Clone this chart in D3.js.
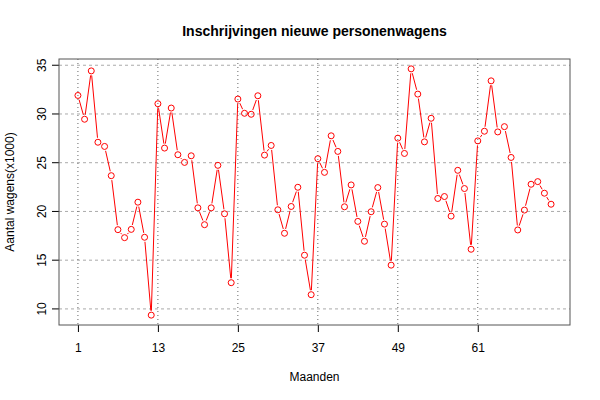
<!DOCTYPE html>
<html><head><meta charset="utf-8">
<script src="https://cdn.jsdelivr.net/npm/d3@7"></script>
<style>body{margin:0;background:#fff}svg{display:block;font-family:"Liberation Sans",Arial,sans-serif}</style>
</head><body>
<svg id="c" width="600" height="400"></svg>
<script>
const months = d3.range(1, 73);
const values = [31.9,29.46,34.42,27.1,26.67,23.67,18.13,17.31,18.16,20.95,17.35,9.36,
31.05,26.5,30.61,25.82,25.03,25.71,20.37,18.64,20.37,24.73,19.76,12.69,
31.53,30.07,29.97,31.87,25.78,26.77,20.17,17.76,20.51,22.48,15.51,11.46,
25.41,24.01,27.76,26.16,20.48,22.72,18.98,16.94,19.97,22.45,18.7,14.49,
27.52,25.95,34.63,32.04,27.14,29.56,21.33,21.53,19.52,24.22,22.35,16.12,
27.24,28.23,33.4,28.16,28.7,25.54,18.1,20.14,22.79,23.06,21.87,20.74];
const xTicks = [1,13,25,37,49,61];
const yTicks = [10,15,20,25,30,35];
const title = "Inschrijvingen nieuwe personenwagens";
const xLabel = "Maanden";
const yLabel = "Aantal wagens(x1000)";

const L=59, R=570, T=59, B=325;
const svg = d3.select("#c");
const xmin=d3.min(months), xmax=d3.max(months), xr=(xmax-xmin)*0.04;
const ymin=d3.min(values), ymax=d3.max(values), yr=(ymax-ymin)*0.04;
const x = d3.scaleLinear().domain([xmin-xr, xmax+xr]).range([L,R]);
const y = d3.scaleLinear().domain([ymin-yr, ymax+yr]).range([B,T]);

// grid
svg.append("g").selectAll("line").data(yTicks).join("line")
  .attr("x1",L).attr("x2",R).attr("y1",d=>y(d)).attr("y2",d=>y(d))
  .attr("stroke","#aaa").attr("stroke-dasharray","3,3").attr("stroke-width",1);
svg.append("g").selectAll("line").data(xTicks).join("line")
  .attr("y1",T).attr("y2",B).attr("x1",d=>x(d)).attr("x2",d=>x(d))
  .attr("stroke","#666").attr("stroke-dasharray","1,3").attr("stroke-width",1);

// axes
const xa = svg.append("g").attr("transform",`translate(0,${B})`)
  .call(d3.axisBottom(x).tickValues(xTicks).tickSize(7).tickPadding(11).tickFormat(d3.format("d")));
const ya = svg.append("g").attr("transform",`translate(${L},0)`)
  .call(d3.axisLeft(y).tickValues(yTicks).tickSize(7).tickPadding(5).tickFormat(d3.format("d")));
[xa,ya].forEach(a=>{a.select(".domain").remove();a.selectAll("line").attr("stroke","#000");
  a.selectAll("text").attr("font-size",12).attr("fill","#000").attr("font-family","Liberation Sans, Arial, sans-serif");});
ya.selectAll(".tick").attr("transform",null);
ya.selectAll(".tick line").attr("y1",d=>y(d)).attr("y2",d=>y(d));
ya.selectAll("text").attr("x",-17).attr("y",d=>y(d)).attr("dy",4).attr("text-anchor","middle")
  .attr("transform",function(d){return `rotate(-90,${-17},${y(d)})`;});

svg.append("rect").attr("x",L).attr("y",T).attr("width",R-L).attr("height",B-T)
  .attr("fill","none").attr("stroke","#555").attr("stroke-width",1);

// type "b" lines with gaps
const gap=4.5;
const pts = months.map((m,i)=>[x(m),y(values[i])]);
const segs=[];
for(let i=0;i<pts.length-1;i++){
  const [x1,y1]=pts[i],[x2,y2]=pts[i+1];
  const dx=x2-x1,dy=y2-y1,len=Math.hypot(dx,dy);
  if(len>2*gap){const ux=dx/len,uy=dy/len;
    segs.push([x1+ux*gap,y1+uy*gap,x2-ux*gap,y2-uy*gap]);}
}
svg.append("g").selectAll("line").data(segs).join("line")
  .attr("x1",d=>d[0]).attr("y1",d=>d[1]).attr("x2",d=>d[2]).attr("y2",d=>d[3])
  .attr("stroke","#ff0000").attr("stroke-width",1);
svg.append("g").selectAll("circle").data(months).join("circle")
  .attr("cx",d=>x(d)).attr("cy",(d,i)=>y(values[i])).attr("r",3)
  .attr("fill","none").attr("stroke","#ff0000").attr("stroke-width",1);

svg.append("text").attr("x",(L+R)/2).attr("y",36).attr("text-anchor","middle")
  .attr("font-size",14).attr("font-weight","bold").text(title);
svg.append("text").attr("x",(L+R)/2).attr("y",381).attr("text-anchor","middle")
  .attr("font-size",12).text(xLabel);
svg.append("text").attr("transform",`translate(14,${(T+B)/2}) rotate(-90)`).attr("text-anchor","middle")
  .attr("font-size",12).text(yLabel);
</script>
</body></html>
